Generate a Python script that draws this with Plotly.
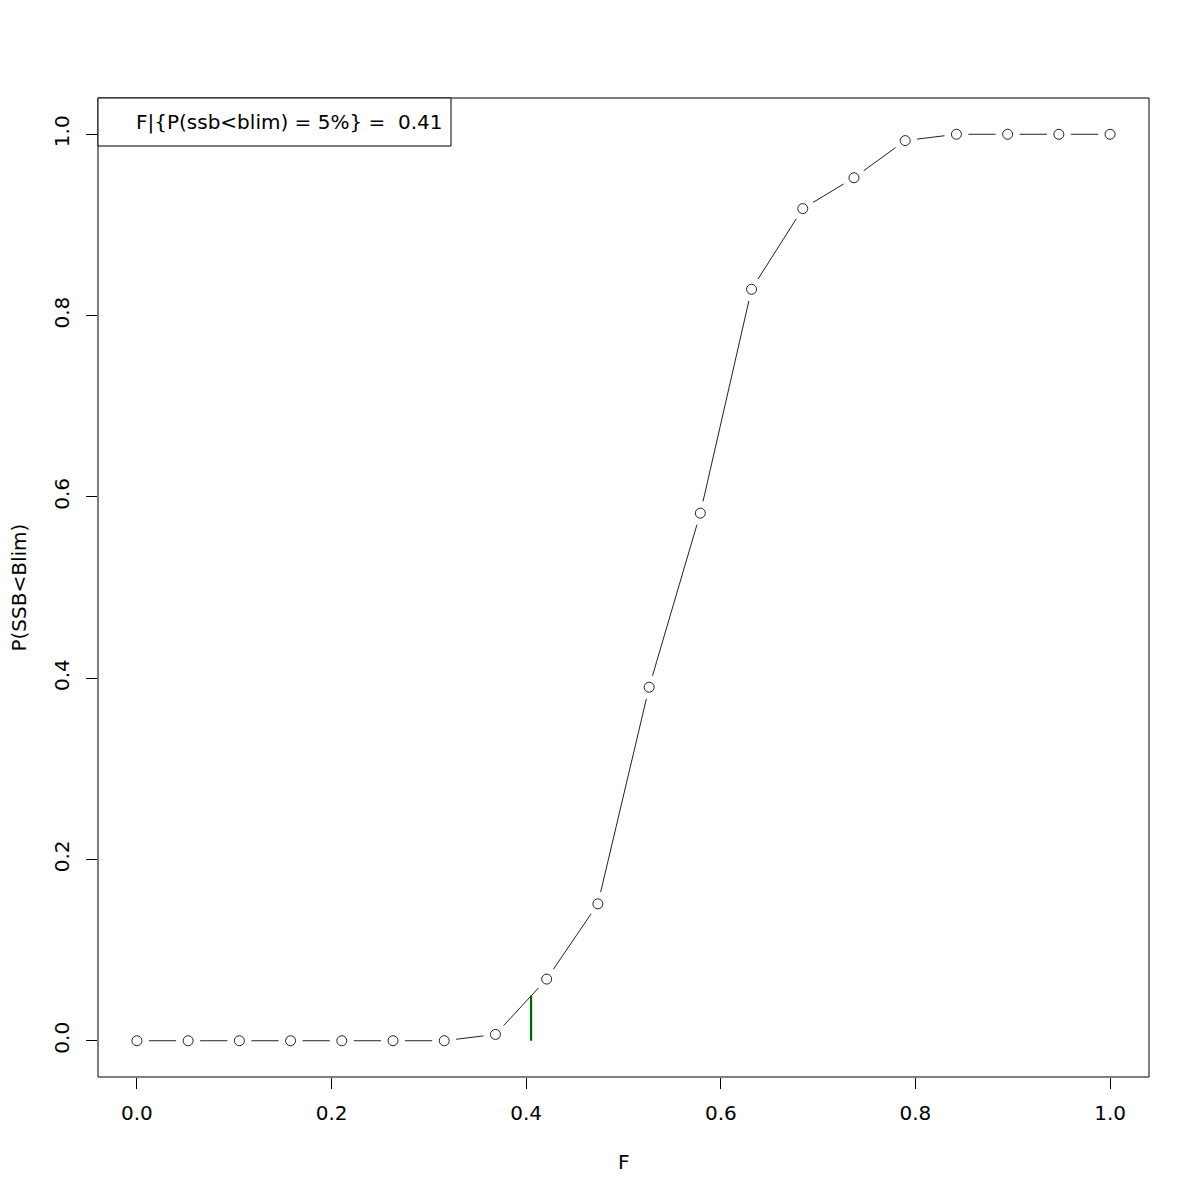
import plotly.graph_objects as go
import numpy as np

# Data
f_values = [i / 19 for i in range(20)]
p_ssb_below_blim = [0.0, 0.0, 0.0, 0.0, 0.0, 0.0, 0.0, 0.007, 0.068, 0.151,
                    0.390, 0.582, 0.829, 0.918, 0.952, 0.993, 1.0, 1.0, 1.0, 1.0]
f_target = 0.405
p_target = 0.05
x_ticks = [0.0, 0.2, 0.4, 0.6, 0.8, 1.0]
y_ticks = [0.0, 0.2, 0.4, 0.6, 0.8, 1.0]
legend_text = "F|{P(ssb<blim) = 5%} =  0.41"
x_title = "F"
y_title = "P(SSB<Blim)"

# Layout geometry (page has an 8px body margin)
W, H = 1200, 1200
ml, mr, mt, mb = 90, 59, 90, 131
xr = [-0.04, 1.04]
yr = [-0.04, 1.04]
pw = W - ml - mr
ph = H - mt - mb
sx = pw / (xr[1] - xr[0])
sy = ph / (yr[1] - yr[0])

# R type="b" style: line segments with gaps around points
gap = 12.0
seg_x, seg_y = [], []
for i in range(len(f_values) - 1):
    x0, y0 = f_values[i], p_ssb_below_blim[i]
    x1, y1 = f_values[i + 1], p_ssb_below_blim[i + 1]
    dx, dy = (x1 - x0) * sx, (y1 - y0) * sy
    L = np.hypot(dx, dy)
    if L <= 2 * gap:
        continue
    t0, t1 = gap / L, 1 - gap / L
    seg_x += [x0 + (x1 - x0) * t0, x0 + (x1 - x0) * t1, None]
    seg_y += [y0 + (y1 - y0) * t0, y0 + (y1 - y0) * t1, None]

font = "DejaVu Sans, Liberation Sans, sans-serif"
fs = 20

fig = go.Figure()
fig.add_trace(go.Scatter(x=seg_x, y=seg_y, mode="lines",
                         line=dict(color="#222222", width=1), hoverinfo="skip"))
fig.add_trace(go.Scatter(x=f_values, y=p_ssb_below_blim, mode="markers",
                         marker=dict(symbol="circle-open", size=10,
                                     color="#222222", line=dict(width=1))))
fig.add_trace(go.Scatter(x=[f_target, f_target], y=[0, p_target], mode="lines",
                         line=dict(color="#006400", width=2.2)))

# Plot box
fig.add_shape(type="rect", xref="paper", yref="paper", x0=0, x1=1, y0=0, y1=1,
              line=dict(color="black", width=1))
# Legend box
lx1 = (443 - ml) / pw
ly0 = 1 - (138 - mt) / ph
fig.add_shape(type="rect", xref="paper", yref="paper", x0=0, x1=lx1, y0=ly0, y1=1,
              line=dict(color="black", width=1), fillcolor="white")
fig.add_annotation(xref="paper", yref="paper", x=(126 - ml) / pw, y=(1 + ly0) / 2,
                   text=legend_text, showarrow=False, xanchor="left", yanchor="middle",
                   font=dict(family=font, size=fs, color="black"))

# Axis titles
fig.add_annotation(xref="paper", yref="paper", x=0.5, y=-(1154 - (H - mb)) / ph,
                   text=x_title, showarrow=False, xanchor="center", yanchor="middle",
                   font=dict(family=font, size=fs, color="black"))
fig.add_annotation(xref="paper", yref="paper", x=(10 - ml) / pw, y=0.5,
                   text=y_title, showarrow=False, textangle=-90, borderpad=0,
                   xanchor="center", yanchor="middle",
                   font=dict(family=font, size=fs, color="black"))

fig.update_layout(
    width=W, height=H,
    margin=dict(l=ml, r=mr, t=mt, b=mb, pad=0, autoexpand=False),
    plot_bgcolor="white", paper_bgcolor="white",
    showlegend=False,
    font=dict(family=font, size=fs, color="black"),
    xaxis=dict(range=xr, tickvals=x_ticks, tickformat=".1f", showgrid=False,
               zeroline=False, showline=False, ticks="outside", ticklen=11,
               tickcolor="black", tickwidth=1, ticklabelstandoff=7,
               automargin=False),
    yaxis=dict(range=yr, tickvals=y_ticks, tickformat=".1f", showgrid=False,
               zeroline=False, showline=False, ticks="outside", ticklen=11,
               tickcolor="black", tickwidth=1, tickangle=-90, ticklabelstandoff=9,
               automargin=False),
)

fig.write_html("out.html")
